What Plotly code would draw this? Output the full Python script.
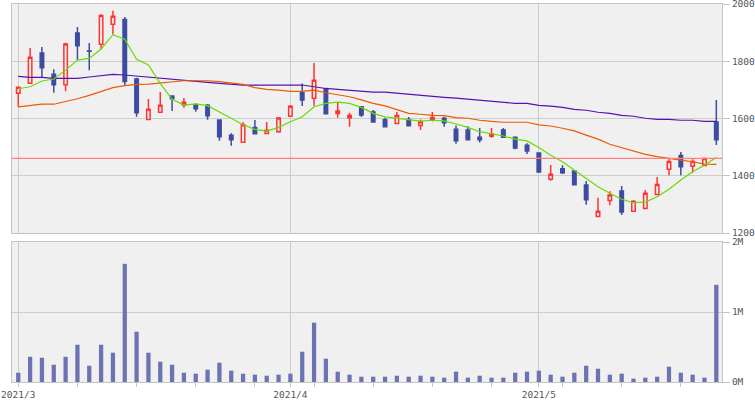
import pandas as pd
import plotly.graph_objects as go

# ---------------- data ----------------
holidays = ["2021-04-29", "2021-05-03", "2021-05-04", "2021-05-05"]
dates = [d for d in pd.bdate_range("2021-03-01", "2021-05-27")
         if d.strftime("%Y-%m-%d") not in holidays]

opens = [1688, 1723, 1829, 1755, 1718, 1899, 1836, 1859, 1929, 1946,
         1738, 1597, 1622, 1679, 1647, 1647, 1646, 1595, 1542, 1517,
         1569, 1548, 1554, 1608, 1690, 1671, 1704, 1618, 1603, 1641,
         1623, 1596, 1583, 1597, 1576, 1596, 1601, 1563, 1560, 1535,
         1538, 1560, 1535, 1507, 1480, 1388, 1425, 1417, 1368, 1258,
         1314, 1347, 1276, 1286, 1335, 1423, 1471, 1433, 1436, 1588]
highs = [1709, 1846, 1850, 1772, 1865, 1920, 1864, 1964, 1976, 1955,
         1742, 1668, 1693, 1679, 1672, 1653, 1651, 1595, 1549, 1588,
         1595, 1588, 1605, 1647, 1722, 1794, 1706, 1657, 1620, 1643,
         1630, 1603, 1623, 1605, 1597, 1623, 1606, 1576, 1573, 1567,
         1567, 1567, 1536, 1514, 1481, 1438, 1437, 1418, 1382, 1323,
         1346, 1364, 1315, 1350, 1396, 1460, 1483, 1458, 1464, 1665]
lows = [1641, 1723, 1742, 1690, 1695, 1804, 1769, 1842, 1894, 1717,
        1606, 1597, 1622, 1626, 1638, 1624, 1596, 1522, 1505, 1517,
        1547, 1548, 1550, 1606, 1644, 1645, 1615, 1603, 1571, 1605,
        1588, 1571, 1583, 1575, 1560, 1590, 1571, 1512, 1524, 1516,
        1533, 1535, 1493, 1476, 1411, 1383, 1406, 1369, 1299, 1258,
        1297, 1263, 1276, 1286, 1335, 1402, 1402, 1411, 1436, 1508]
closes = [1709, 1814, 1777, 1718, 1860, 1854, 1835, 1960, 1957, 1729,
          1620, 1632, 1646, 1669, 1657, 1634, 1610, 1536, 1526, 1578,
          1547, 1559, 1602, 1643, 1665, 1734, 1617, 1626, 1611, 1612,
          1588, 1571, 1611, 1575, 1589, 1604, 1585, 1522, 1526, 1526,
          1546, 1535, 1497, 1487, 1413, 1405, 1411, 1369, 1316, 1276,
          1333, 1274, 1311, 1339, 1370, 1450, 1432, 1450, 1460, 1526]
volumes = [133, 361, 347, 247, 361, 533, 233, 533, 419, 1690,
           719, 419, 290, 247, 133, 119, 176, 276, 162, 119,
           105, 90, 105, 119, 433, 848, 333, 148, 105, 76,
           76, 76, 90, 76, 90, 76, 62, 148, 62, 90,
           62, 62, 133, 148, 162, 105, 76, 133, 233, 190,
           105, 119, 48, 62, 76, 219, 133, 105, 62, 1390]  # thousands of shares
ma5 = [1704, 1711, 1731, 1738, 1769, 1804, 1810, 1843, 1893, 1877,
       1807, 1787, 1723, 1667, 1647, 1651, 1645, 1624, 1601, 1578,
       1562, 1556, 1569, 1589, 1606, 1641, 1653, 1657, 1653, 1639,
       1618, 1606, 1601, 1595, 1591, 1594, 1592, 1581, 1569, 1554,
       1546, 1539, 1528, 1522, 1499, 1472, 1449, 1420, 1391, 1362,
       1339, 1318, 1306, 1308, 1327, 1353, 1385, 1414, 1438, 1464]
ma25 = [1641, 1645, 1650, 1650, 1659, 1669, 1681, 1694, 1708, 1715,
        1719, 1720, 1724, 1730, 1732, 1732, 1732, 1729, 1723, 1719,
        1708, 1702, 1699, 1695, 1695, 1699, 1690, 1684, 1676, 1665,
        1653, 1644, 1632, 1618, 1615, 1611, 1610, 1603, 1601, 1594,
        1590, 1587, 1587, 1587, 1578, 1574, 1566, 1557, 1542, 1528,
        1510, 1499, 1486, 1475, 1467, 1460, 1455, 1449, 1441, 1440]
ma75 = [1747, 1744, 1744, 1740, 1740, 1740, 1745, 1750, 1754, 1752,
        1748, 1744, 1740, 1737, 1733, 1730, 1726, 1723, 1719, 1717,
        1717, 1717, 1717, 1717, 1717, 1711, 1705, 1702, 1699, 1695,
        1692, 1692, 1688, 1685, 1681, 1678, 1674, 1671, 1667, 1664,
        1660, 1657, 1653, 1653, 1646, 1643, 1639, 1632, 1629, 1622,
        1618, 1611, 1608, 1601, 1597, 1597, 1594, 1594, 1590, 1590]
ref_price = 1461

price_ticks = [1200, 1400, 1600, 1800, 2000]
vol_ticks = [0, 1000, 2000]
vol_tick_labels = ["0M", "1M", "2M"]

# ---------------- derived positions ----------------
x = list(range(len(dates)))
major_idx = [i for i in x if i == 0 or dates[i].month != dates[i - 1].month]
major_labels = [f"{dates[i].year}/{dates[i].month}" for i in major_idx]
minor_idx = [i for i in x if dates[i].weekday() == 0 and i not in major_idx]

BG = "#f0f0f0"
GRID = "#cccccc"
AXC = "#c4c4c4"
UP = "#ff3333"
DOWN = "#3d4ca0"
FONT = dict(family="DejaVu Sans Mono", size=9.5, color="#555555")

fig = go.Figure()
fig.add_trace(go.Candlestick(
    x=x, open=opens, high=highs, low=lows, close=closes,
    increasing=dict(line=dict(color=UP, width=1.5), fillcolor=BG),
    decreasing=dict(line=dict(color=DOWN, width=1.5), fillcolor=DOWN),
    whiskerwidth=0, xaxis="x", yaxis="y", showlegend=False))
fig.add_trace(go.Scatter(x=x, y=ma75, mode="lines", line=dict(color="#5512b0", width=1.2),
                         xaxis="x", yaxis="y", showlegend=False))
fig.add_trace(go.Scatter(x=x, y=ma25, mode="lines", line=dict(color="#ee5a00", width=1.2),
                         xaxis="x", yaxis="y", showlegend=False))
fig.add_trace(go.Scatter(x=x, y=ma5, mode="lines", line=dict(color="#66dd00", width=1.2),
                         xaxis="x", yaxis="y", showlegend=False))
fig.add_trace(go.Bar(x=x, y=volumes, width=0.36, marker=dict(color="#6b73b3", line=dict(width=0)),
                     xaxis="x2", yaxis="y2", showlegend=False))

fig.add_shape(type="line", xref="x domain", yref="y", x0=0, x1=1, y0=ref_price, y1=ref_price,
              line=dict(color="#ff8080", width=1.2), layer="above")

xrange = [-0.53, len(x) - 1 + 0.48]
common_x = dict(range=xrange, showline=True, mirror=True, linecolor=AXC, linewidth=1,
                showgrid=True, gridcolor=GRID, gridwidth=1, tickmode="array",
                tickvals=major_idx, zeroline=False, fixedrange=True, automargin=False,
                ticklabeloverflow="allow")

fig.update_layout(
    width=755, height=400,
    margin=dict(l=12, r=33, t=4, b=18),
    paper_bgcolor="white", plot_bgcolor=BG,
    boxgap=0.58,
    xaxis=dict(**common_x, anchor="y", showticklabels=False, ticks="", rangeslider=dict(visible=False)),
    xaxis2=dict(**common_x, anchor="y2", matches="x", ticktext=major_labels,
                ticks="outside", ticklen=4, tickcolor=AXC, tickfont=FONT,
                minor=dict(tickmode="array", tickvals=minor_idx, ticks="outside", ticklen=4,
                           tickcolor=AXC, showgrid=False)),
    yaxis=dict(domain=[0.394, 1], range=[1200, 2000], side="right", tickmode="array",
               tickvals=price_ticks, ticks="outside", ticklen=7, tickcolor=AXC,
               showline=True, mirror=True, linecolor=AXC, gridcolor=GRID,
               zeroline=False, tickfont=FONT, fixedrange=True, automargin=False,
               ticklabeloverflow="allow"),
    yaxis2=dict(domain=[0, 0.370], range=[0, 2000], side="right", tickmode="array",
                tickvals=vol_ticks, ticktext=vol_tick_labels, ticks="outside", ticklen=7,
                tickcolor=AXC, showline=True, mirror=True, linecolor=AXC,
                gridcolor=GRID, zeroline=False, tickfont=FONT, fixedrange=True, automargin=False,
                ticklabeloverflow="allow"),
    font=FONT,
)

fig.write_html(
    "out.html",
    config={"displayModeBar": False},
    post_script="document.body.style.margin='0px';document.body.style.overflow='hidden';",
)
